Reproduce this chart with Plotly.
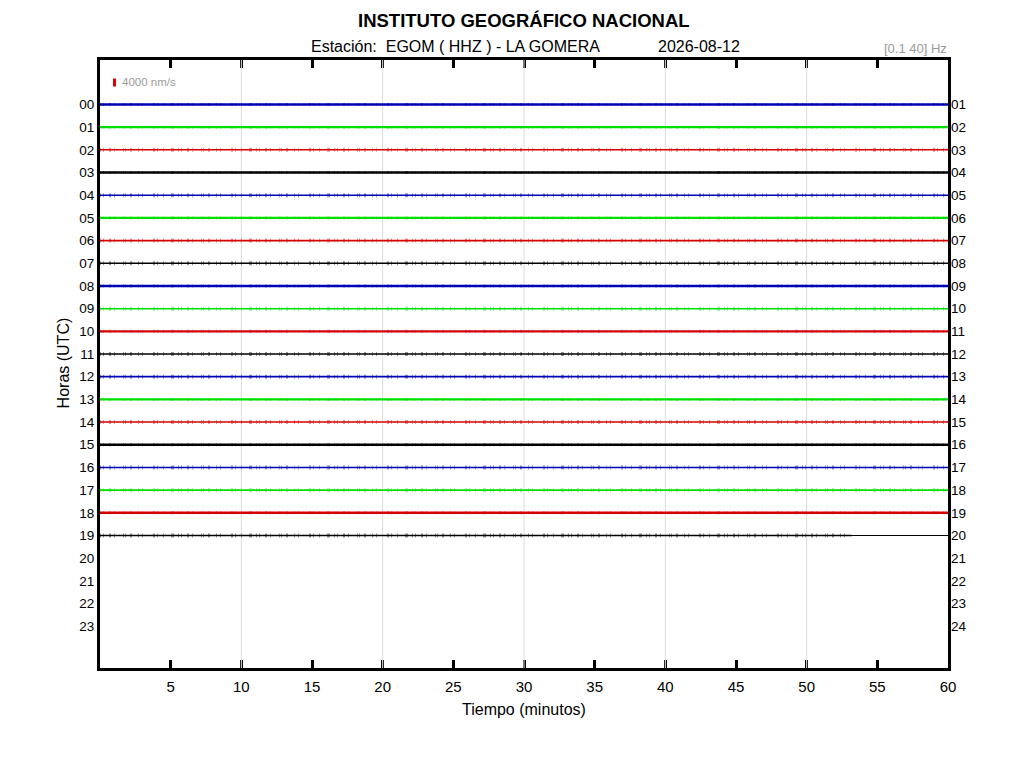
import plotly.graph_objects as go

# ---- data ----
hours = list(range(20))                      # hour rows that have data
hour_labels_left = [f"{h:02d}" for h in range(24)]
hour_labels_right = [f"{h:02d}" for h in range(1, 25)]
color_cycle = ["#0000b4", "#00e000", "#d40000", "#000000"]
# core trace thickness (px) and noise halo thickness (px) per hour
core_width = [2.4, 2.4, 1.5, 2.4, 1.5, 2.4, 1.7, 1.5, 2.4, 1.5,
              2.4, 1.7, 1.7, 2.4, 1.5, 2.4, 1.5, 1.8, 2.4, 1.3]
noise_width = [3.0, 3.0, 4.0, 3.0, 4.0, 3.0, 4.0, 4.0, 3.0, 4.0,
               3.0, 4.0, 4.0, 3.0, 4.0, 3.0, 4.0, 4.0, 3.0, 4.0]
trace_start = [0.0] * 20
trace_end = [60.0] * 19 + [53.2]            # last hour still recording
flat_tail_start = 53.2                       # flat tail of last hour
x_ticks = list(range(5, 61, 5))
grid_minutes = [10, 20, 30, 40, 50]

NOISE_DASH = ("1px,2px,1px,5px,2px,3px,1px,8px,1px,1px,1px,4px,2px,6px,1px,3px,"
              "1px,10px,2px,2px,1px,5px,1px,7px,3px,4px")

fig = go.Figure()

for i, h in enumerate(hours):
    c = color_cycle[h % 4]
    xs = [trace_start[i], trace_end[i]]
    ys = [h, h]
    fig.add_trace(go.Scatter(x=xs, y=ys, mode="lines",
                             line=dict(color=c, width=noise_width[i], dash=NOISE_DASH),
                             opacity=0.4, hoverinfo="skip", showlegend=False))
    fig.add_trace(go.Scatter(x=xs, y=ys, mode="lines",
                             line=dict(color=c, width=core_width[i]),
                             hoverinfo="skip", showlegend=False))

# flat tail of the final hour
last = hours[-1]
fig.add_trace(go.Scatter(x=[flat_tail_start, 60], y=[last, last], mode="lines",
                         line=dict(color="#000000", width=1),
                         hoverinfo="skip", showlegend=False))
# invisible trace to activate the right-hand axis
fig.add_trace(go.Scatter(x=[0], y=[0], yaxis="y2", mode="markers",
                         marker=dict(opacity=0), hoverinfo="skip", showlegend=False))

yrange = [24.84, -1.96]
font = "Liberation Sans, Arial, sans-serif"

# plot-area geometry in reference pixels (used to place page texts)
PL, PR, PT, PB = 100.0, 948.0, 59.5, 667.7
PW, PH = PR - PL, PB - PT


def px(x):
    return (x - PL) / PW


def py(y):
    return (PB - y) / PH


shapes = []
for g in grid_minutes:
    shapes.append(dict(type="line", xref="x", yref="paper", x0=g, x1=g, y0=0, y1=1,
                       line=dict(color="#dcdcdc", width=1), layer="below"))
    for y0, y1 in [(0, 0.014), (0.986, 1)]:
        shapes.append(dict(type="line", xref="x", yref="paper", x0=g, x1=g, y0=y0, y1=y1,
                           line=dict(color="#e8e8e8", width=1), layer="above"))
# amplitude scale bar
shapes.append(dict(type="rect", xref="paper", yref="paper",
                   x0=px(113), x1=px(116), y0=py(86), y1=py(78),
                   fillcolor="#e00000", line=dict(width=0)))


def ann(text, x, y, size, color="black", xanchor="center", angle=0):
    return dict(text=text, xref="paper", yref="paper", x=x, y=y, xanchor=xanchor,
                yanchor="middle", showarrow=False, textangle=angle,
                font=dict(size=size, color=color, family=font))


annotations = [
    ann("<b>INSTITUTO GEOGRÁFICO NACIONAL</b>", px(524), py(20), 18.5),
    ann("Estación:&nbsp; EGOM ( HHZ ) - LA GOMERA", px(309), py(46), 16, xanchor="left"),
    ann("2026-08-12", px(656), py(46), 16, xanchor="left"),
    ann("[0.1 40] Hz", px(949), py(48), 13, color="#9a9a9a", xanchor="right"),
    ann("4000 nm/s", px(120), py(82), 11.5, color="#9a9a9a", xanchor="left"),
    ann("Horas (UTC)", px(63), py(363), 16, angle=-90),
    ann("Tiempo (minutos)", px(524), py(709), 16),
]

# the page body adds an 8px offset, so the figure is drawn 8px smaller
OFF = 8
fig.update_layout(
    width=1024 - OFF * 2, height=768 - OFF * 2,
    margin=dict(l=PL - OFF, r=1024 - OFF * 2 - (PL - OFF) - PW,
                t=PT - OFF, b=768 - OFF * 2 - (PT - OFF) - PH),
    paper_bgcolor="white", plot_bgcolor="white",
    showlegend=False,
    font=dict(family=font, color="black"),
    xaxis=dict(range=[0, 60], tickvals=x_ticks, ticktext=[str(t) for t in x_ticks],
               ticks="inside", ticklen=8, tickwidth=3, tickcolor="black",
               showline=True, linewidth=3, linecolor="black", mirror="ticks",
               showgrid=False, zeroline=False, tickfont=dict(size=15),
               ticklabelstandoff=3),
    yaxis=dict(range=yrange, tickvals=list(range(24)), ticktext=hour_labels_left,
               ticks="", showline=True, linewidth=3, linecolor="black", mirror=True,
               showgrid=False, zeroline=False, tickfont=dict(size=13.5)),
    yaxis2=dict(range=yrange, tickvals=list(range(24)), ticktext=hour_labels_right,
                overlaying="y", side="right", ticks="", showline=False,
                showgrid=False, zeroline=False, tickfont=dict(size=13.5),
                ticklabelstandoff=2),
    shapes=shapes, annotations=annotations,
)

fig.write_html("out.html")
